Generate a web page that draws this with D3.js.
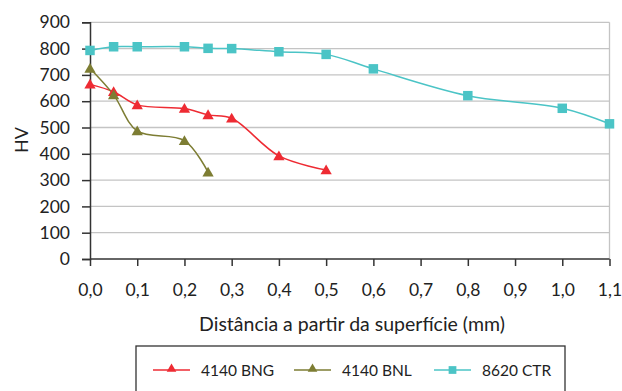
<!DOCTYPE html>
<html><head><meta charset="utf-8">
<script src="https://cdn.jsdelivr.net/npm/d3@7"></script>
<style>body{margin:0;background:#fff;} svg{display:block;font-family:Lato, "Open Sans", sans-serif;}</style>
</head><body><svg id="c" width="622" height="391"></svg>
<script>
const xTicks = [0,0.1,0.2,0.3,0.4,0.5,0.6,0.7,0.8,0.9,1.0,1.1];
const yTicks = [0,100,200,300,400,500,600,700,800,900];
const bngX = [0,0.05,0.1,0.2,0.25,0.3,0.4,0.5];
const bngY = [664,636,586,572,548,535,392,338];
const bnlX = [0,0.05,0.1,0.2,0.25];
const bnlY = [724,624,487,450,330];
const ctrX = [0,0.05,0.1,0.2,0.25,0.3,0.4,0.5,0.6,0.8,1.0,1.1];
const ctrY = [793,807,807,807,801,800,788,778,723,621,573,514];
const seriesNames = ["4140 BNG","4140 BNL","8620 CTR"];
const seriesColors = ["#ee2b33","#7d7d33","#4bc4c6"];
const seriesMarkers = ["tri","tri","sq"];

const svg = d3.select("#c");
const x = d3.scaleLinear().domain([0,1.1]).range([90,609.5]);
const y = d3.scaleLinear().domain([0,900]).range([259,22.3]);

// grid
svg.append("g").selectAll("line").data(yTicks.filter(d=>d>0)).join("line")
  .attr("x1",90).attr("x2",609.5).attr("y1",d=>y(d)).attr("y2",d=>y(d))
  .attr("stroke","#c4c4c4").attr("stroke-width",1.3);
svg.append("line").attr("x1",609.5).attr("x2",609.5).attr("y1",y(900)).attr("y2",y(0))
  .attr("stroke","#c4c4c4").attr("stroke-width",1.3);

// axes
const yAxis = svg.append("g").attr("transform","translate(90,0)")
  .call(d3.axisLeft(y).tickValues(yTicks).tickSize(8).tickPadding(12).tickFormat(d3.format("d")));
const xAxis = svg.append("g").attr("transform","translate(0,259)")
  .call(d3.axisBottom(x).tickValues(xTicks).tickSize(7).tickPadding(18).tickFormat(d=>d.toFixed(1).replace(".",",")));
[yAxis,xAxis].forEach(a=>{
  a.select(".domain").attr("stroke","#333").attr("stroke-width",1.5);
  a.selectAll(".tick line").attr("stroke","#333").attr("stroke-width",1.5);
  a.selectAll("text").attr("fill","#222").style("font-size","17.5px").style("font-family","Lato, sans-serif");
});
xAxis.select(".domain").attr("d","M90,0H609.5");

svg.append("text").attr("transform","translate(28,140) rotate(-90)").attr("text-anchor","middle")
  .attr("fill","#222").style("font-size","18px").text("HV");
svg.append("text").attr("x",352).attr("y",330.5).attr("text-anchor","middle")
  .attr("fill","#222").style("font-size","19.5px").text("Distância a partir da superfície (mm)");

const series = [
  bngX.map((d,i)=>[d,bngY[i]]),
  bnlX.map((d,i)=>[d,bnlY[i]]),
  ctrX.map((d,i)=>[d,ctrY[i]])
];
const line = d3.line().x(d=>x(d[0])).y(d=>y(d[1])).curve(d3.curveCatmullRom.alpha(0.5));
const tri = d3.symbol().type(d3.symbolTriangle).size(55);
const sq = d3.symbol().type(d3.symbolSquare).size(90);

series.forEach((s,i)=>{
  svg.append("path").datum(s).attr("d",line).attr("fill","none")
    .attr("stroke",seriesColors[i]).attr("stroke-width",1.5);
});
series.forEach((s,i)=>{
  svg.append("g").selectAll("path").data(s).join("path")
    .attr("d", seriesMarkers[i]==="tri"?tri:sq)
    .attr("transform",d=>`translate(${x(d[0])},${y(d[1]) + (seriesMarkers[i]==="tri"?1:0)})`)
    .attr("fill",seriesColors[i]);
});

// legend
svg.append("rect").attr("x",136).attr("y",346).attr("width",429).attr("height",60)
  .attr("fill","#fff").attr("stroke","#333").attr("stroke-width",1.3);
const lx = [153,294,434];
seriesNames.forEach((n,i)=>{
  const g = svg.append("g");
  g.append("line").attr("x1",lx[i]).attr("x2",lx[i]+37).attr("y1",370).attr("y2",370)
    .attr("stroke",seriesColors[i]).attr("stroke-width",1.6);
  g.append("path").attr("d", seriesMarkers[i]==="tri"?d3.symbol().type(d3.symbolTriangle).size(40)():d3.symbol().type(d3.symbolSquare).size(60)())
    .attr("transform",`translate(${lx[i]+18.5},${seriesMarkers[i]==="tri"?369:370})`).attr("fill",seriesColors[i]);
  g.append("text").attr("x",lx[i]+48).attr("y",375.5).attr("fill","#222")
    .style("font-size","15.5px").text(n);
});
</script></body></html>
